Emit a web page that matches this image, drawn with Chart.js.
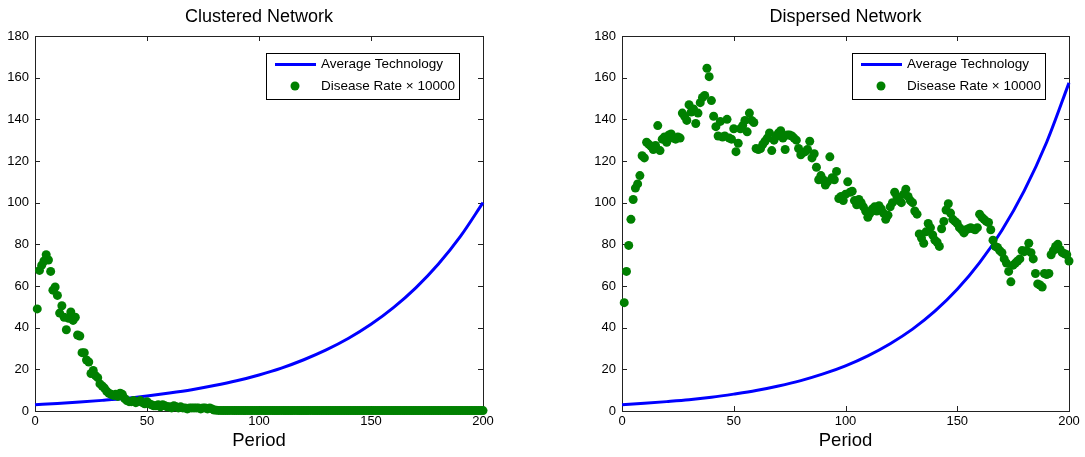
<!DOCTYPE html>
<html><head><meta charset="utf-8">
<script src="https://cdn.jsdelivr.net/npm/chart.js@4.4.0/dist/chart.umd.min.js"></script>
<style>
html,body{margin:0;padding:0;background:#fff;}
#wrap{position:relative;width:1085px;height:457px;overflow:hidden;}
canvas{position:absolute;top:0;}
#c1{left:0;} #c2{left:542px;}
</style></head><body>
<div id="wrap"><canvas id="c1" width="542" height="457"></canvas><canvas id="c2" width="543" height="457"></canvas></div>
<script>
const periods = [1,2,3,4,5,6,7,8,9,10,11,12,13,14,15,16,17,18,19,20,21,22,23,24,25,26,27,28,29,30,31,32,33,34,35,36,37,38,39,40,41,42,43,44,45,46,47,48,49,50,51,52,53,54,55,56,57,58,59,60,61,62,63,64,65,66,67,68,69,70,71,72,73,74,75,76,77,78,79,80,81,82,83,84,85,86,87,88,89,90,91,92,93,94,95,96,97,98,99,100,101,102,103,104,105,106,107,108,109,110,111,112,113,114,115,116,117,118,119,120,121,122,123,124,125,126,127,128,129,130,131,132,133,134,135,136,137,138,139,140,141,142,143,144,145,146,147,148,149,150,151,152,153,154,155,156,157,158,159,160,161,162,163,164,165,166,167,168,169,170,171,172,173,174,175,176,177,178,179,180,181,182,183,184,185,186,187,188,189,190,191,192,193,194,195,196,197,198,199,200];

const techPeriods = [0,10,20,30,40,50,60,70,80,90,100,110,120,130,140,150,160,170,180,190,200];
const clusteredTech = [3.0,3.6,4.3,5.1,6.0,7.2,8.6,10.2,12.2,14.5,17.3,20.6,24.6,29.3,34.9,41.6,49.6,59.1,70.4,83.9,100];
const dispersedTech = [3.0,3.7,4.5,5.4,6.6,8.1,9.8,12.0,14.6,17.8,21.7,26.5,32.3,39.3,47.9,58.4,71.2,86.8,105.8,129,157.5];

const clusteredDisease = [
49,67.5,70,72,75,72.5,67,58,59.5,55.5,
47,50.5,45,39,44.5,47.5,43.5,45,36.5,36,
28,28,24.5,23.5,18,19.5,17,16,13,12,
11,9.5,8.5,8,7.5,8,7,8.5,8,6,
5,4.5,4.5,5,4,4.5,5,4,3.5,4.5,
3.5,3,2.5,2.5,3,2,3,2.5,2,2,
1.5,2.5,2,1.5,2,1.5,1.5,1,1.5,1.5,
1.5,1.5,1.5,1,1.5,1.5,1,1.5,1,0.5,
0.4,0.3,0.3,0.2,0.3,0.2,0.3,0.3,0.2,0.3,
0.2,0.3,0.2,0.2,0.3,0.2,0.2,0.3,0.2,0.2,
0.3,0.2,0.2,0.2,0.3,0.2,0.2,0.2,0.2,0.3,
0.2,0.2,0.2,0.2,0.2,0.3,0.2,0.2,0.2,0.2,
0.2,0.2,0.3,0.2,0.2,0.2,0.2,0.2,0.2,0.2,
0.2,0.2,0.2,0.2,0.2,0.2,0.2,0.2,0.2,0.2,
0.2,0.2,0.2,0.2,0.2,0.2,0.2,0.2,0.2,0.2,
0.2,0.2,0.2,0.2,0.2,0.2,0.2,0.2,0.2,0.2,
0.2,0.2,0.2,0.2,0.2,0.2,0.2,0.2,0.2,0.2,
0.2,0.2,0.2,0.2,0.2,0.2,0.2,0.2,0.2,0.2,
0.2,0.2,0.2,0.2,0.2,0.2,0.2,0.2,0.2,0.2,
0.2,0.2,0.2,0.2,0.2,0.2,0.2,0.2,0.2,0.2];

const dispersedDisease = [
52,67,79.5,92,101.5,107,109,113,122.5,121.5,
129,128,127,125.5,127.5,137,125,130.5,131.5,129,
132.5,133,131,130.5,131.5,131,143,141.5,139.5,147,
143.5,145,138,143,148,150.5,151.5,164.5,160.5,149,
141.5,136.5,132,139,131.5,132,140,131,130.5,135.5,
124.5,128.5,135.5,137,139.5,134,143,139.5,138.5,126,
125.5,126,128,129.5,131,133.5,125,130,132,133.5,
134.5,131,125.5,132.5,132.5,132,131,130,126,123,
124,124.5,125.5,129.5,121.5,123.5,117,111,113,111,
108.5,110,122,112,111,115,102,103,101,104,
110,105,105.5,101,99,101.5,100,98,96,93,
95,97,98,96,98.5,97,95,92,94,98,
100,105,103,101,100,104,106.5,103,101,100,
96,94.5,85,83,80.5,86,90,88,84.5,82,
81,79,87.5,91,96.5,99.5,95,92,91,90,
88,87,85.5,87,87.5,88,87.5,87,88,94.5,
93,92,91,90.5,87,82,79,78.5,77,76,
73,71,67,62,70,71,72,73,77,76.5,
77,80.5,76,73,66,61,60.5,59.5,66,65.5,
66,75,77,79,80,77.5,76,75.5,75,72];

const xTicks = [0,50,100,150,200];
const yTicks = [0,20,40,60,80,100,120,140,160,180];
const seriesNames = ['Average Technology', 'Disease Rate \u00d7 10000'];
const chartTitles = ['Clustered Network', 'Dispersed Network'];

const FONT = "'Liberation Sans', Arial, Helvetica, sans-serif";
Chart.defaults.font.family = FONT;
Chart.defaults.color = '#000';

const boxPlugin = {
  id: 'box',
  beforeDatasetsDraw(chart) {
    const {ctx, chartArea: a, scales} = chart;
    ctx.save();
    ctx.strokeStyle = '#222';
    ctx.lineWidth = 1;
    ctx.strokeRect(a.left + 0.5, a.top + 0.5, a.right - a.left, a.bottom - a.top);
    ctx.beginPath();
    const L = 5;
    xTicks.forEach(v => {
      const x = Math.round(scales.x.getPixelForValue(v)) + 0.5;
      ctx.moveTo(x, a.bottom); ctx.lineTo(x, a.bottom - L);
      ctx.moveTo(x, a.top); ctx.lineTo(x, a.top + L);
    });
    yTicks.forEach(v => {
      const y = Math.round(scales.y.getPixelForValue(v)) + 0.5;
      ctx.moveTo(a.left, y); ctx.lineTo(a.left + L, y);
      ctx.moveTo(a.right, y); ctx.lineTo(a.right - L, y);
    });
    ctx.stroke();
    ctx.restore();
  }
};

const titleLegendPlugin = {
  id: 'titleLegend',
  afterDatasetsDraw(chart, args, opts) {
    const {ctx, chartArea: a} = chart;
    ctx.save();
    // title
    ctx.fillStyle = '#000';
    ctx.font = '18px ' + FONT;
    ctx.textAlign = 'center';
    ctx.textBaseline = 'middle';
    ctx.fillText(opts.title, (a.left + a.right) / 2, 17);
    // legend box
    const bw = 193, bh = 46;
    const bx = a.right - 24 - bw, by = a.top + 17;
    ctx.fillStyle = '#fff';
    ctx.fillRect(bx, by, bw, bh);
    ctx.strokeStyle = '#000';
    ctx.lineWidth = 1;
    ctx.strokeRect(Math.round(bx) + 0.5, Math.round(by) + 0.5, bw, bh);
    const r1 = by + 11.5, r2 = by + 33;
    ctx.strokeStyle = '#0000ff';
    ctx.lineWidth = 3;
    ctx.beginPath();
    ctx.moveTo(bx + 9, r1); ctx.lineTo(bx + 50, r1);
    ctx.stroke();
    ctx.fillStyle = '#008000';
    ctx.beginPath();
    ctx.arc(bx + 29, r2, 4.5, 0, Math.PI * 2);
    ctx.fill();
    ctx.fillStyle = '#000';
    ctx.font = '13.5px ' + FONT;
    ctx.textAlign = 'left';
    ctx.fillText(seriesNames[0], bx + 55, r1);
    ctx.fillText(seriesNames[1], bx + 55, r2);
    ctx.restore();
  }
};

function build(id, title, tech, disease, padL, padR) {
  return new Chart(document.getElementById(id), {
    type: 'scatter',
    data: { datasets: [
      { label: seriesNames[1], data: periods.map((p, i) => ({x: p, y: disease[i]})),
        backgroundColor: '#008000', borderColor: '#008000', borderWidth: 0,
        pointRadius: 4.5, pointHoverRadius: 4.5, clip: false, order: 0 },
      { type: 'line', label: seriesNames[0], data: techPeriods.map((p, i) => ({x: p, y: tech[i]})),
        borderColor: '#0000ff', backgroundColor: '#0000ff', borderWidth: 3, pointRadius: 0,
        fill: false, cubicInterpolationMode: 'monotone', clip: false, order: 1 }
    ]},
    options: {
      responsive: false, animation: false, events: [],
      layout: { padding: { left: padL, right: padR, top: 36, bottom: 0 } },
      plugins: { legend: { display: false }, tooltip: { enabled: false }, title: { display: false },
        titleLegend: { title: title } },
      scales: {
        x: { type: 'linear', min: 0, max: 200,
          afterBuildTicks(s) { s.ticks = xTicks.map(v => ({value: v})); },
          ticks: { color: '#000', font: { size: 13 }, padding: 3, maxRotation: 0 },
          grid: { display: false, drawTicks: false }, border: { display: false },
          title: { display: true, text: 'Period', color: '#000', font: { size: 18.5 }, padding: { top: 0, bottom: 5 } },
          afterFit(s) { s.height = 46; } },
        y: { type: 'linear', min: 0, max: 180,
          afterBuildTicks(s) { s.ticks = yTicks.map(v => ({value: v})); },
          ticks: { color: '#000', font: { size: 13 }, padding: 6 },
          grid: { display: false, drawTicks: false }, border: { display: false },
          afterFit(s) { s.width = 35; } }
      }
    },
    plugins: [boxPlugin, titleLegendPlugin]
  });
}

build('c1', chartTitles[0], clusteredTech, clusteredDisease, 0, 59);
build('c2', chartTitles[1], dispersedTech, dispersedDisease, 45, 16);
</script>
</body></html>
